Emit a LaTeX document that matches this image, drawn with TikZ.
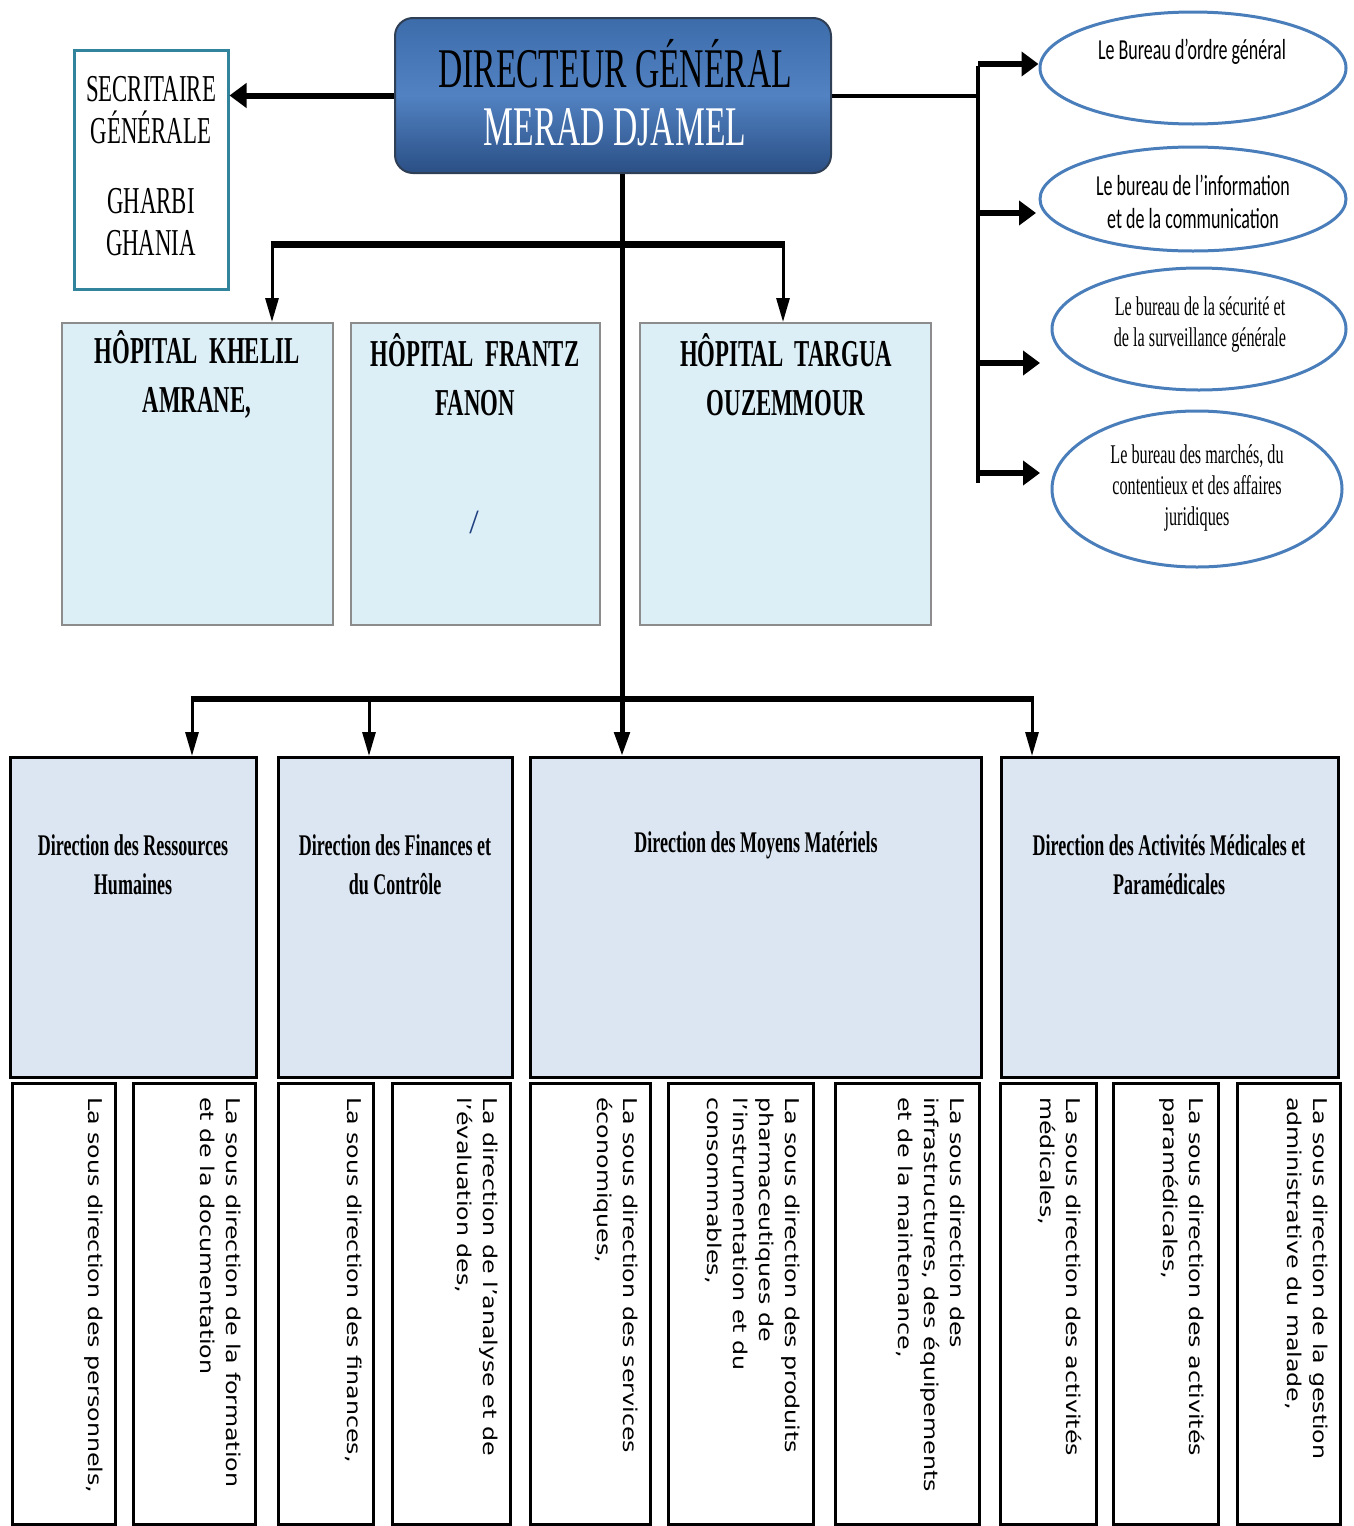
\documentclass[tikz,border=0pt]{standalone}
\usepackage{fontspec}
\setmainfont{Liberation Serif}
\newfontfamily\cserif[FakeStretch=0.6]{Liberation Serif}
\newfontfamily\csans[FakeStretch=0.62]{Carlito}
\newfontfamily\colfont[FakeStretch=1.25]{DejaVu Sans}
\usetikzlibrary{arrows.meta,shapes.geometric}
\definecolor{dgA}{HTML}{3D6CAB}
\definecolor{dgB}{HTML}{5282C2}
\definecolor{dgC}{HTML}{2A4F85}
\definecolor{dgEdge}{HTML}{2F3F55}
\definecolor{hosFill}{HTML}{DCEEF6}
\definecolor{hosEdge}{HTML}{8C8C8C}
\definecolor{dirFill}{HTML}{DCE6F2}
\definecolor{ellEdge}{HTML}{4A7EBB}
\definecolor{secEdge}{HTML}{31849B}
\definecolor{slashBlue}{HTML}{1F3F7F}
\begin{document}
\begin{tikzpicture}[x=1pt,y=-1pt,
  dgbox/.style={draw=dgEdge, line width=2pt, rounded corners=18pt, top color=dgA, bottom color=dgC, middle color=dgB, inner sep=0pt},
  secbox/.style={draw=secEdge, line width=3pt, fill=white, inner sep=0pt},
  hosbox/.style={draw=hosEdge, line width=2pt, fill=hosFill, inner sep=0pt, minimum height=302pt},
  dirbox/.style={draw=black, line width=3pt, fill=dirFill, inner sep=0pt, minimum height=320pt},
  colbox/.style={draw=black, line width=3pt, fill=white, inner sep=0pt, minimum height=441pt},
  ellbox/.style={draw=ellEdge, line width=3pt, ellipse, inner sep=0pt},
  htitle/.style={font=\cserif\bfseries\fontsize{38}{49}\selectfont, align=center, inner sep=0pt},
  dtitle/.style={font=\cserif\bfseries\fontsize{30}{39}\selectfont, align=center, inner sep=0pt},
  esans/.style={font=\csans\fontsize{29}{33}\selectfont, align=center, inner sep=0pt},
  eserif/.style={font=\cserif\fontsize{27}{31}\selectfont, align=center, inner sep=0pt},
  coltext/.style={font=\colfont\fontsize{19}{26}\selectfont, align=left, inner sep=0pt, anchor=north west, rotate=-90},
  droparrow/.style={line width=3pt, -{Triangle[length=24pt,width=13pt]}},
  sidearrow/.style={line width=6pt, -{Triangle[length=17pt,width=24pt]}},
  mainarrow/.style={line width=5pt, -{Triangle[length=24pt,width=15pt]}}
]
\useasboundingbox (0,0) rectangle (1354,1526);

% Directeur general
\node[dgbox, minimum width=436pt, minimum height=155pt] (dg) at (613,95.5) {};
\node[font=\cserif\fontsize{56}{58}\selectfont, align=center, inner sep=0pt] (dgt) at (615,93) {DIRECTEUR GÉNÉRAL\\\textcolor{white}{MERAD DJAMEL}};

% Secretaire
\node[secbox, minimum width=154pt, minimum height=239pt] (sg) at (151,169.5) {};
\node[font=\cserif\fontsize{38}{42}\selectfont, align=center, inner sep=0pt] (sgt) at (151,166) {SECRITAIRE\\GÉNÉRALE\\[28pt]GHARBI\\GHANIA};

% Ellipses
\node[ellbox, minimum width=306pt, minimum height=112pt] (e1) at (1193,68) {};
\node[ellbox, minimum width=306pt, minimum height=104pt] (e2) at (1193,199) {};
\node[ellbox, minimum width=294pt, minimum height=122pt] (e3) at (1199,329) {};
\node[ellbox, minimum width=290pt, minimum height=156pt] (e4) at (1197,489) {};
\node[esans] (e1t) at (1192,52) {Le Bureau d’ordre général};
\node[esans] (e2t) at (1193,201.5) {Le bureau de l’information\\et de la communication};
\node[eserif] (e3t) at (1200,325) {Le bureau de la sécurité et\\de la surveillance générale};
\node[eserif] (e4t) at (1197,488) {Le bureau des marchés, du\\contentieux et des affaires\\juridiques};

% Hospitals
\node[hosbox, minimum width=271pt] (h1) at (197.5,474) {};
\node[hosbox, minimum width=249pt] (h2) at (475.5,474) {};
\node[hosbox, minimum width=291pt] (h3) at (785.5,474) {};
\node[htitle] (h1t) at (197,374.5) {HÔPITAL\ \ KHELIL\\AMRANE,};
\node[htitle] (h2t) at (475,374.5) {HÔPITAL\ \ FRANTZ\\FANON};
\node[htitle] (h3t) at (786,374.5) {HÔPITAL\ \ TARGUA\\OUZEMMOUR};
\node[font=\fontsize{34}{34}\selectfont, text=slashBlue, inner sep=0pt] (slash) at (474,522) {/};

% Directions
\node[dirbox, minimum width=246pt] (d1) at (133,917.5) {};
\node[dirbox, minimum width=234pt] (d2) at (395,917.5) {};
\node[dirbox, minimum width=451pt] (d3) at (755.5,917.5) {};
\node[dirbox, minimum width=337pt] (d4) at (1169.5,917.5) {};
\node[dtitle] (d1t) at (133,864.5) {Direction des Ressources\\Humaines};
\node[dtitle] (d2t) at (395,864.5) {Direction des Finances et\\du Contrôle};
\node[dtitle] (d3t) at (756,845) {Direction des Moyens Matériels};
\node[dtitle] (d4t) at (1169,864.5) {Direction des Activités Médicales et\\Paramédicales};

% Sub-direction columns
\node[colbox, minimum width=103pt] (c11) at (63.5,1303.5) {};
\node[colbox, minimum width=122pt] (c12) at (194,1303.5) {};
\node[colbox, minimum width=95pt] (c21) at (325.5,1303.5) {};
\node[colbox, minimum width=118pt] (c22) at (451,1303.5) {};
\node[colbox, minimum width=120pt] (c31) at (590,1303.5) {};
\node[colbox, minimum width=145pt] (c32) at (740.5,1303.5) {};
\node[colbox, minimum width=144pt] (c33) at (907,1303.5) {};
\node[colbox, minimum width=96pt] (c41) at (1048,1303.5) {};
\node[colbox, minimum width=105pt] (c42) at (1165.5,1303.5) {};
\node[colbox, minimum width=103pt] (c43) at (1288.5,1303.5) {};

\node[coltext] (c11t) at (103,1097) {La sous direction des personnels,};
\node[coltext] (c12t) at (241,1097) {La sous direction de la formation\\et de la documentation};
\node[coltext] (c21t) at (362,1097) {La sous direction des finances,};
\node[coltext] (c22t) at (498,1097) {La direction de l’analyse et de\\l’évaluation des,};
\node[coltext] (c31t) at (638,1097) {La sous direction des services\\économiques,};
\node[coltext] (c32t) at (800,1097) {La sous direction des produits\\pharmaceutiques de\\l’instrumentation et du\\consommables,};
\node[coltext] (c33t) at (965,1097) {La sous direction des\\infrastructures, des équipements\\et de la maintenance,};
\node[coltext] (c41t) at (1082,1097) {La sous direction des activités\\médicales,};
\node[coltext] (c42t) at (1205,1097) {La sous direction des activités\\paramédicales,};
\node[coltext] (c43t) at (1328,1097) {La sous direction de la gestion\\administrative du malade,};

% Connectors: secretaire
\draw[sidearrow] (dg.west) -- (dg.west -| sg.east);

% Connectors: right bureaus
\coordinate (rtop) at (978,66);
\coordinate (rbot) at (978,483);
\coordinate (a2) at (1036,213);
\coordinate (a3) at (1040,363);
\coordinate (a4) at (1040,473);
\draw[line width=4pt] (dg.east) -- (dg.east -| rtop);
\draw[line width=4pt] (rtop) -- (rbot);
\draw[sidearrow] ([yshift=2pt]rtop) -- ([yshift=2pt]rtop -| e1.west);
\draw[sidearrow] (a2 -| rtop) -- (a2);
\draw[sidearrow] (a3 -| rtop) -- (a3);
\draw[sidearrow] (a4 -| rtop) -- (a4);

% Connectors: main vertical
\coordinate (mtop) at ([xshift=9pt]dg.south);
\draw[mainarrow] (mtop) -- (mtop |- d3.north);

% Connectors: hospitals
\coordinate (b1l) at (272,244);
\coordinate (b1r) at (783,244);
\draw[line width=7pt] ([xshift=-1.5pt]b1l) -- ([xshift=1.5pt]b1r);
\draw[droparrow] (b1l) -- (b1l |- h1.north);
\draw[droparrow] (b1r) -- (b1r |- h3.north);

% Connectors: directions
\coordinate (b2l) at (192,699);
\coordinate (b2m) at (369,699);
\coordinate (b2r) at (1032,699);
\draw[line width=6pt] ([xshift=-1.5pt]b2l) -- ([xshift=1.5pt]b2r);
\draw[droparrow] (b2l) -- (b2l |- d1.north);
\draw[droparrow] (b2m) -- (b2m |- d2.north);
\draw[droparrow] (b2r) -- (b2r |- d4.north);
\end{tikzpicture}
\end{document}
